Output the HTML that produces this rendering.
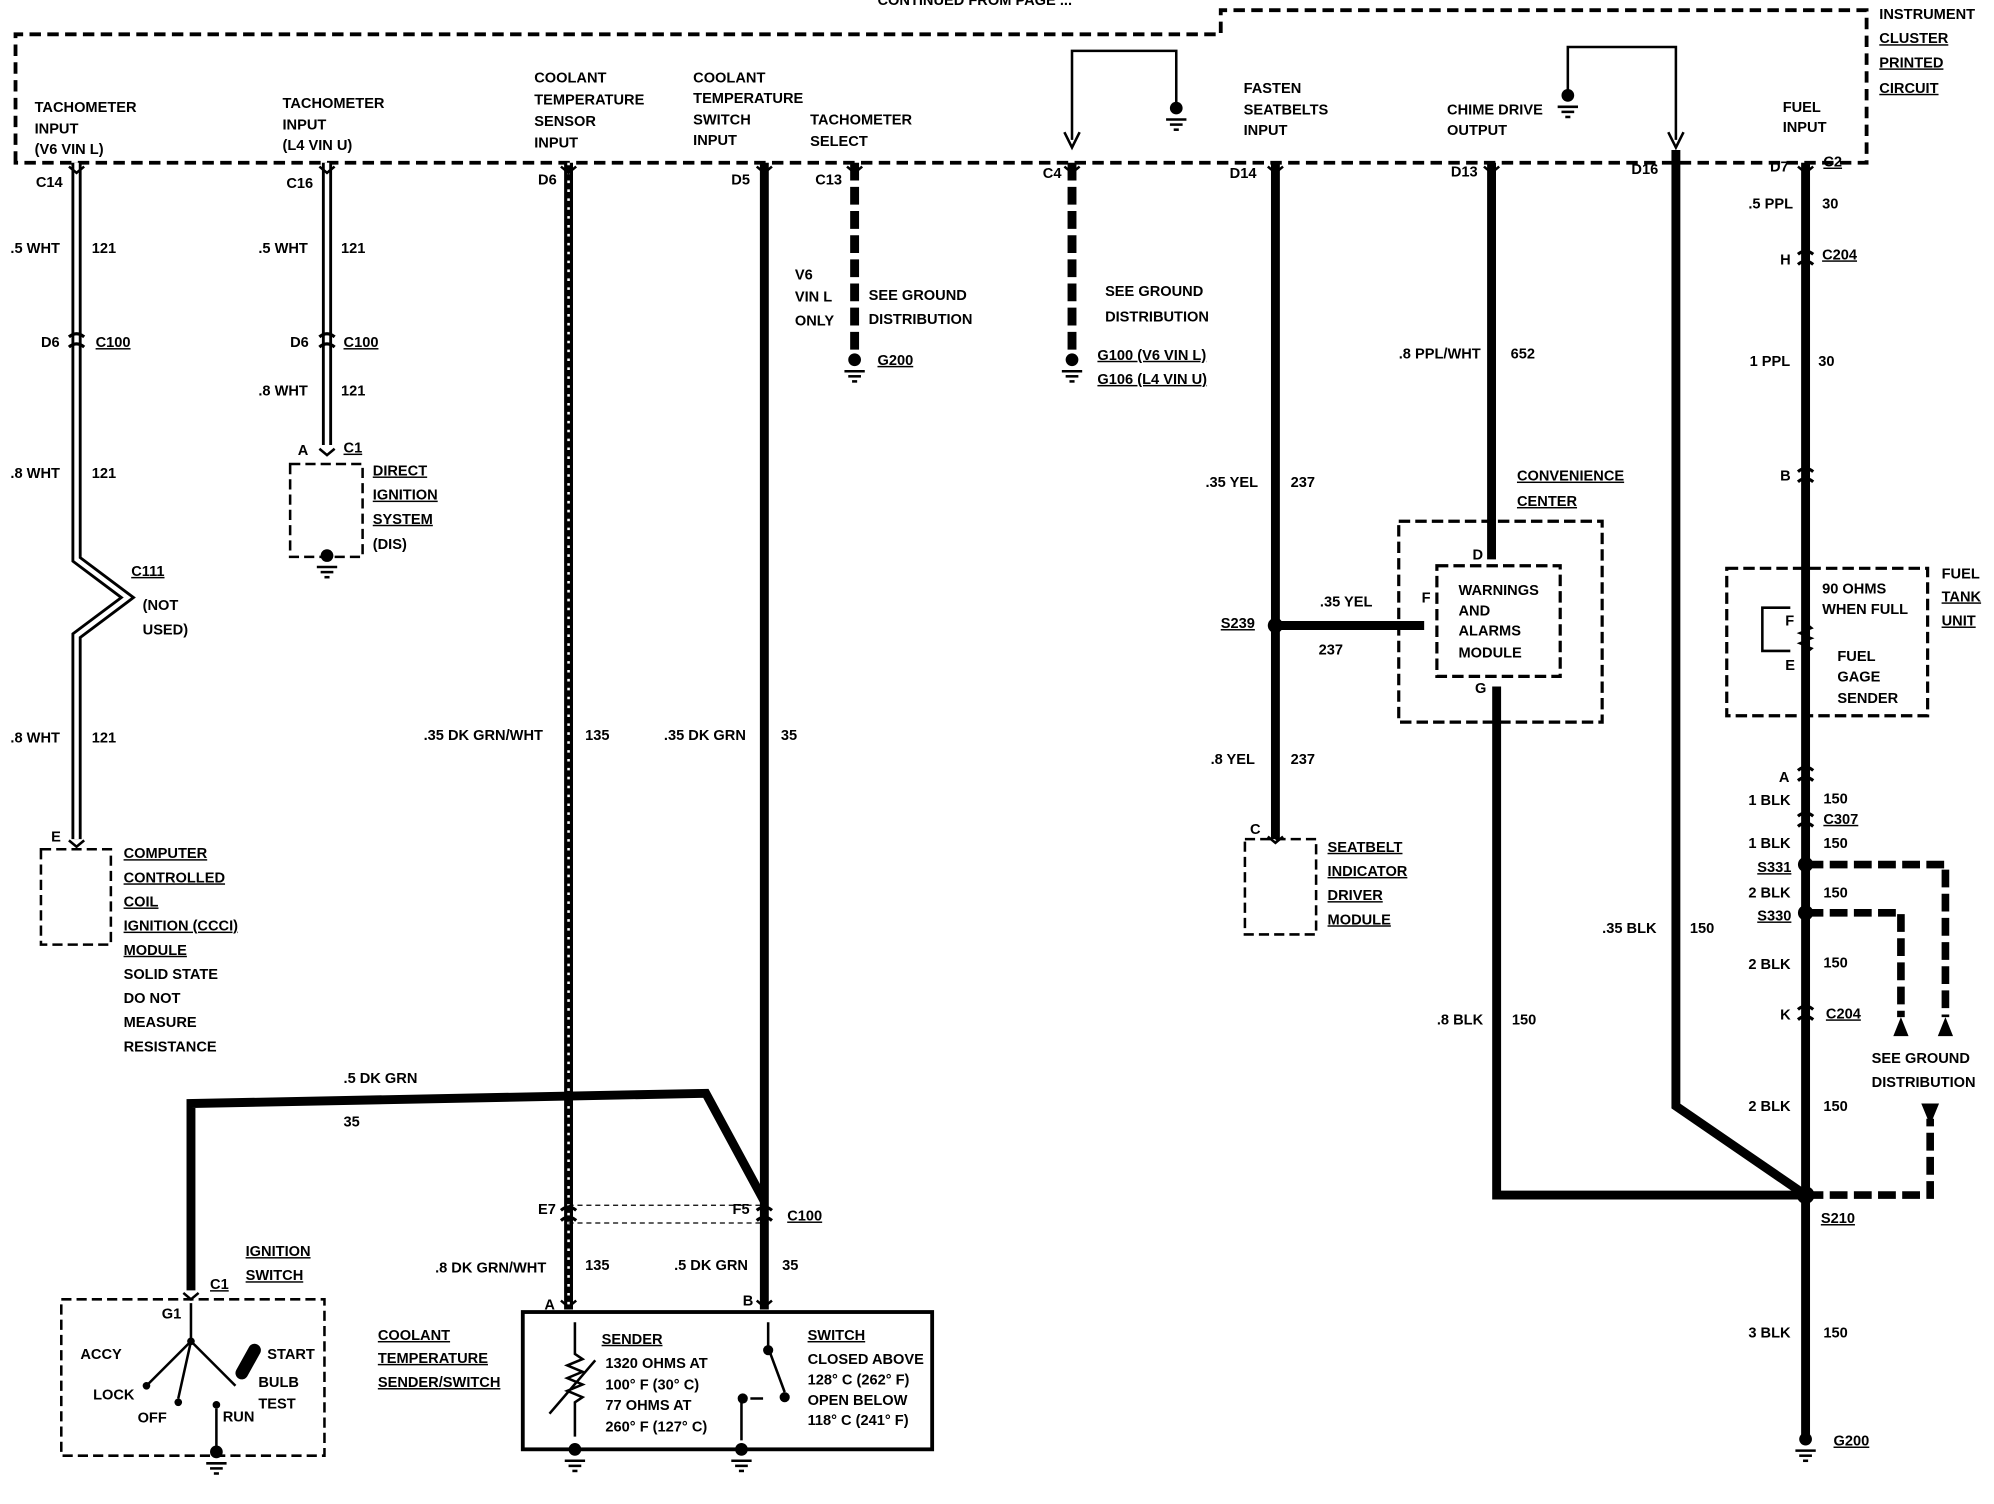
<!DOCTYPE html>
<html><head><style>
html,body{margin:0;padding:0;background:#fff;}
svg{display:block;}
text{font-family:"Liberation Sans",sans-serif;font-weight:bold;font-size:11.5px;fill:#000;}
.u{text-decoration:underline;}
</style></head><body>
<svg width="1994" height="1504" viewBox="0 0 1568 1183" xmlns="http://www.w3.org/2000/svg">
<defs>
<g id="gnd"><circle cx="0" cy="0" r="5" fill="#000"/><line x1="-8" y1="9" x2="8" y2="9" stroke="#000" stroke-width="2"/><line x1="-5" y1="13" x2="5" y2="13" stroke="#000" stroke-width="2"/><line x1="-2" y1="17" x2="2" y2="17" stroke="#000" stroke-width="2"/></g>
<g id="cn"><path d="M-6,-5 L0,0 L6,-5" fill="none" stroke="#000" stroke-width="2"/></g>
<g id="cc"><path d="M-6,-3 Q0,-8 6,-3 M-6,5 Q0,0 6,5" fill="none" stroke="#000" stroke-width="2.5"/></g>
</defs>
<g fill="none" stroke="#000">
<!-- top box -->
<path d="M12,128 L12,27 L960,27 L960,8 L1468,8 L1468,128 Z" stroke-width="3" stroke-dasharray="9,5"/>
<!-- wire 1 double -->
<path d="M60,128 L60,440 L100,470 L60,500 L60,660" stroke-width="8"/>
<path d="M60,128 L60,440 L100,470 L60,500 L60,660" stroke="#fff" stroke-width="3.5"/>
<path d="M257,128 L257,350" stroke-width="8"/>
<path d="M257,128 L257,350" stroke="#fff" stroke-width="3.5"/>
<!-- hatched -->
<path d="M447,128 L447,1030" stroke-width="7"/>
<path d="M447,128 L447,1030" stroke="#fff" stroke-width="2" stroke-dasharray="2,5"/>
<path d="M601,128 L601,1030" stroke-width="7"/>
<path d="M672,128 L672,280" stroke-width="7" stroke-dasharray="14,5"/>
<path d="M843,128 L843,280" stroke-width="7" stroke-dasharray="14,5"/>
<path d="M1003,128 L1003,660" stroke-width="7"/>
<path d="M1173,128 L1173,440" stroke-width="7"/>
<path d="M1177,540 L1177,940 L1420,940" stroke-width="7"/>
<path d="M1318,118 L1318,870 L1420,940" stroke-width="7"/>
<path d="M1420,128 L1420,1130" stroke-width="7"/>
<path d="M1003,492 L1120,492" stroke-width="7"/>
<path d="M150,1015 L150,868 L555,860 L601,945" stroke-width="7"/>
<path d="M447,948 L601,948 M447,962 L601,962" stroke-width="1" stroke-dasharray="4,3"/>
<!-- loops -->
<path d="M843,110 L843,40 L925,40 L925,85" stroke-width="2"/>
<path d="M837,104 L843,116 L849,104" stroke-width="2"/>
<path d="M1318,110 L1318,37 L1233,37 L1233,75" stroke-width="2"/>
<path d="M1312,104 L1318,116 L1324,104" stroke-width="2"/>
<!-- ground distribution -->
<path d="M1420,680 L1530,680 L1530,800 M1420,718 L1495,718 L1495,800 M1420,940 L1518,940 L1518,880" stroke-width="6" stroke-dasharray="14,5"/>
<!-- dashed boxes -->
<rect x="32" y="668" width="55" height="75" stroke-width="2" stroke-dasharray="8,4"/>
<rect x="228" y="365" width="57" height="73" stroke-width="2" stroke-dasharray="8,4"/>
<rect x="979" y="660" width="56" height="75" stroke-width="2" stroke-dasharray="8,4"/>
<rect x="1100" y="410" width="160" height="158" stroke-width="2.5" stroke-dasharray="9,4"/>
<rect x="1130" y="445" width="97" height="87" stroke-width="2.5" stroke-dasharray="9,4"/>
<rect x="1358" y="447" width="158" height="116" stroke-width="2.5" stroke-dasharray="9,4"/>
<rect x="48" y="1022" width="207" height="123" stroke-width="2" stroke-dasharray="8,4"/>
<rect x="411" y="1032" width="322" height="108" stroke-width="3"/>
<!-- fuel sender internals -->
<path d="M1420,465 L1420,530 M1408,478 L1386,478 L1386,512 L1408,512" stroke-width="2"/>
<path d="M1420,490 l5,4 l-10,4 l10,4 l-10,4 l10,4 l-5,4" stroke-width="1.5"/>
<!-- sender internals -->
<path d="M452,1040 L452,1065 l6,4 l-12,5 l12,5 l-12,5 l12,5 l-12,5 l12,5 l-6,4 L452,1130" stroke-width="2"/>
<path d="M432,1112 L468,1070" stroke-width="2"/>
<path d="M583,1133 L583,1100 M590,1100 L600,1100 M604,1040 L604,1060 L617,1095" stroke-width="2"/>
<!-- ignition switch internals -->
<path d="M150,1025 L150,1055 L140,1100 M115,1090 L150,1055 M150,1055 L185,1090" stroke-width="2"/>
<path d="M170,1108 L170,1140" stroke-width="2"/>
<path d="M190,1080 L200,1062" stroke-width="10" stroke-linecap="round"/>
</g>
<g fill="#000">
<circle cx="1003" cy="492" r="6"/><circle cx="1420" cy="680" r="6"/><circle cx="1420" cy="718" r="6"/><circle cx="1420" cy="940" r="7"/>
<circle cx="604" cy="1062" r="4"/><circle cx="617" cy="1099" r="4"/><circle cx="584" cy="1100" r="4"/>
<circle cx="150" cy="1055" r="3"/><circle cx="115" cy="1090" r="3"/><circle cx="140" cy="1103" r="3"/><circle cx="170" cy="1105" r="3"/>
<path d="M1489,815 L1495,800 L1501,815 Z M1524,815 L1530,800 L1536,815 Z M1511,868 L1518,885 L1525,868 Z"/>
</g>
<use href="#gnd" x="925" y="85"/><use href="#gnd" x="1233" y="75"/>
<use href="#gnd" x="672" y="283"/><use href="#gnd" x="843" y="283"/>
<use href="#gnd" x="257" y="437"/><use href="#gnd" x="1420" y="1132"/>
<use href="#gnd" x="170" y="1142"/><use href="#gnd" x="452" y="1140"/><use href="#gnd" x="583" y="1140"/>
<use href="#cn" x="60" y="136"/><use href="#cn" x="257" y="136"/><use href="#cn" x="447" y="136"/><use href="#cn" x="601" y="136"/><use href="#cn" x="672" y="136"/><use href="#cn" x="843" y="136"/><use href="#cn" x="1003" y="136"/><use href="#cn" x="1173" y="136"/><use href="#cn" x="1420" y="136"/>
<use href="#cc" x="60" y="268"/><use href="#cc" x="257" y="268"/><use href="#cc" x="1420" y="203"/><use href="#cc" x="1420" y="374"/><use href="#cc" x="1420" y="609"/><use href="#cc" x="1420" y="645"/><use href="#cc" x="1420" y="797"/><use href="#cc" x="447" y="955"/><use href="#cc" x="601" y="955"/><use href="#cn" x="257" y="358"/><use href="#cn" x="60" y="666"/><use href="#cn" x="1003" y="663"/><use href="#cn" x="447" y="1028"/><use href="#cn" x="601" y="1028"/><use href="#cn" x="150" y="1022"/>

<text x="690" y="4" font-size="9">CONTINUED FROM PAGE ...</text>
<text x="1478" y="15">INSTRUMENT</text><text x="1478" y="34" class="u">CLUSTER</text><text x="1478" y="53" class="u">PRINTED</text><text x="1478" y="73" class="u">CIRCUIT</text>
<text x="27" y="88">TACHOMETER</text><text x="27" y="105">INPUT</text><text x="27" y="121" font-size="9">(V6 VIN L)</text>
<text x="222" y="85">TACHOMETER</text><text x="222" y="102">INPUT</text><text x="222" y="118" font-size="9">(L4 VIN U)</text>
<text x="420" y="65">COOLANT</text><text x="420" y="82">TEMPERATURE</text><text x="420" y="99">SENSOR</text><text x="420" y="116">INPUT</text>
<text x="545" y="65">COOLANT</text><text x="545" y="81">TEMPERATURE</text><text x="545" y="98">SWITCH</text><text x="545" y="114">INPUT</text>
<text x="637" y="98">TACHOMETER</text><text x="637" y="115">SELECT</text>
<text x="978" y="73">FASTEN</text><text x="978" y="90">SEATBELTS</text><text x="978" y="106">INPUT</text>
<text x="1138" y="90">CHIME DRIVE</text><text x="1138" y="106">OUTPUT</text>
<text x="1402" y="88">FUEL</text><text x="1402" y="104">INPUT</text>
<text x="28" y="147">C14</text><text x="225" y="148">C16</text><text x="423" y="145">D6</text><text x="575" y="145">D5</text><text x="641" y="145">C13</text><text x="820" y="140">C4</text><text x="967" y="140">D14</text><text x="1141" y="139">D13</text><text x="1283" y="137">D16</text><text x="1392" y="135">D7</text><text x="1434" y="131" class="u">C2</text>
<text x="8" y="199">.5 WHT</text><text x="72" y="199">121</text><text x="203" y="199">.5 WHT</text><text x="268" y="199">121</text>
<text x="32" y="273">D6</text><text x="75" y="273" class="u">C100</text><text x="228" y="273">D6</text><text x="270" y="273" class="u">C100</text>
<text x="203" y="311">.8 WHT</text><text x="268" y="311">121</text><text x="234" y="358">A</text><text x="270" y="356" class="u">C1</text>
<text x="293" y="374" class="u">DIRECT</text><text x="293" y="393" class="u">IGNITION</text><text x="293" y="412" class="u">SYSTEM</text><text x="293" y="432">(DIS)</text>
<text x="8" y="376">.8 WHT</text><text x="72" y="376">121</text>
<text x="103" y="453" class="u">C111</text><text x="112" y="480">(NOT</text><text x="112" y="499">USED)</text>
<text x="8" y="584">.8 WHT</text><text x="72" y="584">121</text><text x="40" y="662">E</text>
<text x="97" y="675" class="u">COMPUTER</text><text x="97" y="694" class="u">CONTROLLED</text><text x="97" y="713" class="u">COIL</text><text x="97" y="732" class="u">IGNITION (CCCI)</text><text x="97" y="751" class="u">MODULE</text><text x="97" y="770">SOLID STATE</text><text x="97" y="789">DO NOT</text><text x="97" y="808">MEASURE</text><text x="97" y="827">RESISTANCE</text>
<text x="625" y="220">V6</text><text x="625" y="237">VIN L</text><text x="625" y="256">ONLY</text><text x="683" y="236">SEE GROUND</text><text x="683" y="255">DISTRIBUTION</text><text x="690" y="287" class="u">G200</text>
<text x="869" y="233">SEE GROUND</text><text x="869" y="253">DISTRIBUTION</text><text x="863" y="283" class="u">G100 (V6 VIN L)</text><text x="863" y="302" class="u">G106 (L4 VIN U)</text>
<text x="333" y="582">.35 DK GRN/WHT</text><text x="460" y="582">135</text><text x="522" y="582">.35 DK GRN</text><text x="614" y="582">35</text>
<text x="270" y="852">.5 DK GRN</text><text x="270" y="886">35</text>
<text x="423" y="955">E7</text><text x="576" y="955">F5</text><text x="619" y="960" class="u">C100</text>
<text x="342" y="1001">.8 DK GRN/WHT</text><text x="460" y="999">135</text><text x="530" y="999">.5 DK GRN</text><text x="615" y="999">35</text>
<text x="428" y="1030">A</text><text x="584" y="1027">B</text>
<text x="297" y="1054" class="u">COOLANT</text><text x="297" y="1072" class="u">TEMPERATURE</text><text x="297" y="1091" class="u">SENDER/SWITCH</text>
<text x="473" y="1057" class="u">SENDER</text><text x="476" y="1076" font-size="10.5">1320 OHMS AT</text><text x="476" y="1093" font-size="10.5">100° F (30° C)</text><text x="476" y="1109" font-size="10.5">77 OHMS AT</text><text x="476" y="1126" font-size="10.5">260° F (127° C)</text>
<text x="635" y="1054" class="u">SWITCH</text><text x="635" y="1073" font-size="10.5">CLOSED ABOVE</text><text x="635" y="1089" font-size="10.5">128° C (262° F)</text><text x="635" y="1105" font-size="10.5">OPEN BELOW</text><text x="635" y="1121" font-size="10.5">118° C (241° F)</text>
<text x="193" y="988" class="u">IGNITION</text><text x="193" y="1007" class="u">SWITCH</text><text x="165" y="1014" class="u">C1</text><text x="127" y="1037">G1</text>
<text x="63" y="1069">ACCY</text><text x="73" y="1101">LOCK</text><text x="108" y="1119">OFF</text><text x="175" y="1118">RUN</text><text x="210" y="1069">START</text><text x="203" y="1091">BULB</text><text x="203" y="1108">TEST</text>
<text x="1100" y="282">.8 PPL/WHT</text><text x="1188" y="282">652</text>
<text x="948" y="383">.35 YEL</text><text x="1015" y="383">237</text>
<text x="1193" y="378" class="u">CONVENIENCE</text><text x="1193" y="398" class="u">CENTER</text>
<text x="1158" y="440">D</text><text x="1118" y="474">F</text><text x="1160" y="545">G</text>
<text x="1147" y="468" font-size="10">WARNINGS</text><text x="1147" y="484" font-size="10">AND</text><text x="1147" y="500" font-size="10">ALARMS</text><text x="1147" y="517" font-size="10">MODULE</text>
<text x="1038" y="477">.35 YEL</text><text x="1037" y="515">237</text><text x="960" y="494" class="u">S239</text>
<text x="952" y="601">.8 YEL</text><text x="1015" y="601">237</text><text x="983" y="656">C</text>
<text x="1044" y="670" class="u">SEATBELT</text><text x="1044" y="689" class="u">INDICATOR</text><text x="1044" y="708" class="u">DRIVER</text><text x="1044" y="727" class="u">MODULE</text>
<text x="1130" y="806">.8 BLK</text><text x="1189" y="806">150</text>
<text x="1260" y="734">.35 BLK</text><text x="1329" y="734">150</text>
<text x="1375" y="164">.5 PPL</text><text x="1433" y="164">30</text><text x="1400" y="208">H</text><text x="1433" y="204" class="u">C204</text>
<text x="1376" y="288">1 PPL</text><text x="1430" y="288">30</text><text x="1400" y="378">B</text>
<text x="1527" y="455">FUEL</text><text x="1527" y="473" class="u">TANK</text><text x="1527" y="492" class="u">UNIT</text>
<text x="1433" y="467" font-size="10">90 OHMS</text><text x="1433" y="483" font-size="10">WHEN FULL</text><text x="1404" y="492">F</text><text x="1404" y="527">E</text><text x="1445" y="520" font-size="10">FUEL</text><text x="1445" y="536" font-size="10">GAGE</text><text x="1445" y="553" font-size="10">SENDER</text>
<text x="1399" y="615">A</text><text x="1375" y="633">1 BLK</text><text x="1434" y="632">150</text><text x="1434" y="648" class="u">C307</text>
<text x="1375" y="667">1 BLK</text><text x="1434" y="667">150</text><text x="1382" y="686" class="u">S331</text>
<text x="1375" y="706">2 BLK</text><text x="1434" y="706">150</text><text x="1382" y="724" class="u">S330</text>
<text x="1375" y="762">2 BLK</text><text x="1434" y="761">150</text><text x="1400" y="802">K</text><text x="1436" y="801" class="u">C204</text>
<text x="1472" y="836">SEE GROUND</text><text x="1472" y="855">DISTRIBUTION</text>
<text x="1375" y="874">2 BLK</text><text x="1434" y="874">150</text><text x="1432" y="962" class="u">S210</text>
<text x="1375" y="1052">3 BLK</text><text x="1434" y="1052">150</text><text x="1442" y="1137" class="u">G200</text>
</svg>
</body></html>
